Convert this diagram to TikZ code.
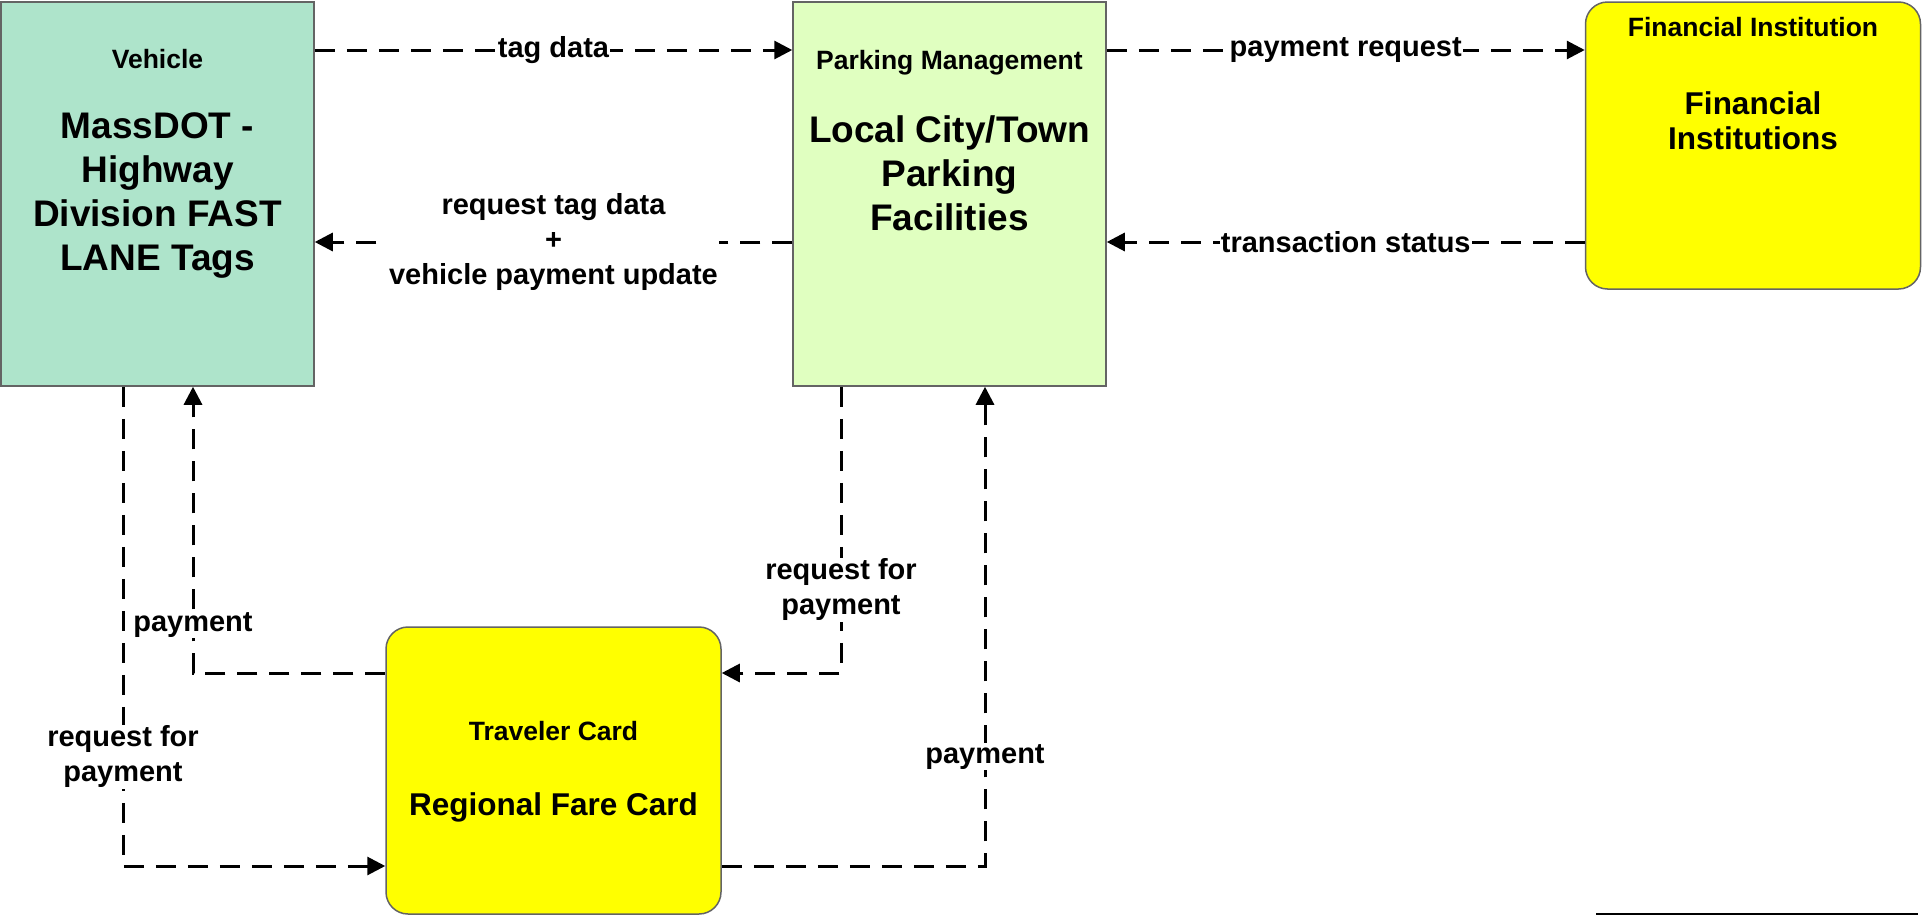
\documentclass[tikz,border=0pt]{standalone}
\usepackage{fontspec}
\setmainfont{Liberation Sans}
\usetikzlibrary{shapes.geometric, arrows.meta}
\definecolor{vehgreen}{RGB}{174,228,203}
\definecolor{parkgreen}{RGB}{224,255,192}
\definecolor{cardyellow}{RGB}{255,255,0}
\definecolor{boxline}{RGB}{100,100,100}
\tikzstyle{entity} = [rectangle, minimum width=313pt, minimum height=384pt, draw=boxline, line width=1.5pt]
\tikzstyle{terminal} = [rectangle, rounded corners=22pt, minimum width=335pt, minimum height=287pt, draw=boxline, line width=1.5pt, fill=cardyellow]
\tikzstyle{title} = [font=\fontsize{26.5}{32}\selectfont\bfseries, inner sep=0pt]
\tikzstyle{bigtext} = [font=\fontsize{37}{44}\selectfont\bfseries, align=center, inner sep=0pt]
\tikzstyle{bodytext} = [font=\fontsize{31.5}{35}\selectfont\bfseries, align=center, inner sep=0pt]
\tikzstyle{flowlabel} = [font=\fontsize{29}{35}\selectfont\bfseries, fill=white, inner sep=1pt, align=center]
\tikzstyle{arrow} = [line width=3pt, dash pattern=on 20pt off 12pt, ->, >={Triangle[length=18pt,width=18pt]}]

\begin{document}
\begin{tikzpicture}[node distance=396pt]
\useasboundingbox (0,0) rectangle (1923pt,-916pt);
% boxes
\node (vehicle) [entity, fill=vehgreen] at (157.5pt,-194pt) {};
\node (parking) [entity, fill=parkgreen, right of = vehicle, xshift = 396pt] {};
\node (financial) [terminal, right of = parking, xshift = 407.5pt, yshift = 48.5pt] {};
\node (traveler) [terminal, below of = vehicle, xshift = 396pt, yshift = -180.5pt] {};
% box texts
\node (vehicletitle) [title] at ([yshift=-58pt]vehicle.north) {Vehicle};
\node (vehiclename) [bigtext] at ([yshift=-194pt]vehicle.north) {MassDOT -\\Highway\\Division FAST\\LANE Tags};
\node (parkingtitle) [title] at ([yshift=-61pt]parking.north) {Parking Management};
\node (parkingname) [bigtext] at ([yshift=-172pt]parking.north) {Local City/Town\\Parking\\Facilities};
\node (financialtitle) [title] at ([yshift=-26pt]financial.north) {Financial Institution};
\node (financialname) [bodytext] at ([yshift=-119pt]financial.north) {Financial\\Institutions};
\node (travelertitle) [title] at ([yshift=-105pt]traveler.north) {Traveler Card};
\node (travelername) [bodytext] at ([yshift=-181pt]traveler.north) {Regional Fare Card};
% flows
\draw [arrow] ([yshift=144pt]vehicle.east) -- node[flowlabel]{tag data} ([yshift=144pt]parking.west);
\draw [arrow] ([yshift=-48pt]parking.west) -- node[flowlabel]{request tag data\\+\\vehicle payment update} ([yshift=-48pt]vehicle.east);
\draw [arrow] ([yshift=144pt]parking.east) -- node[flowlabel]{payment request} ([yshift=95.5pt]financial.west);
\draw [arrow] ([yshift=-96.5pt]financial.west) -- node[flowlabel]{transaction status} ([yshift=-48pt]parking.east);
\draw [arrow] ([xshift=-34.5pt]vehicle.south) |- node[flowlabel, pos=0.386]{request for\\payment} ([yshift=-95.5pt]traveler.west);
\draw [arrow] ([yshift=97.5pt]traveler.west) -| node[flowlabel, pos=0.584]{payment} ([xshift=35.5pt]vehicle.south);
\draw [arrow] ([xshift=-108.5pt]parking.south) |- node[flowlabel, pos=0.355]{request for\\payment} ([yshift=97.5pt]traveler.east);
\draw [arrow] ([yshift=-95.5pt]traveler.east) -| node[flowlabel, pos=0.614]{payment} ([xshift=35.5pt]parking.south);
\draw [line width=2pt] (1596pt,-914pt) -- (1918pt,-914pt);
\end{tikzpicture}
\end{document}
